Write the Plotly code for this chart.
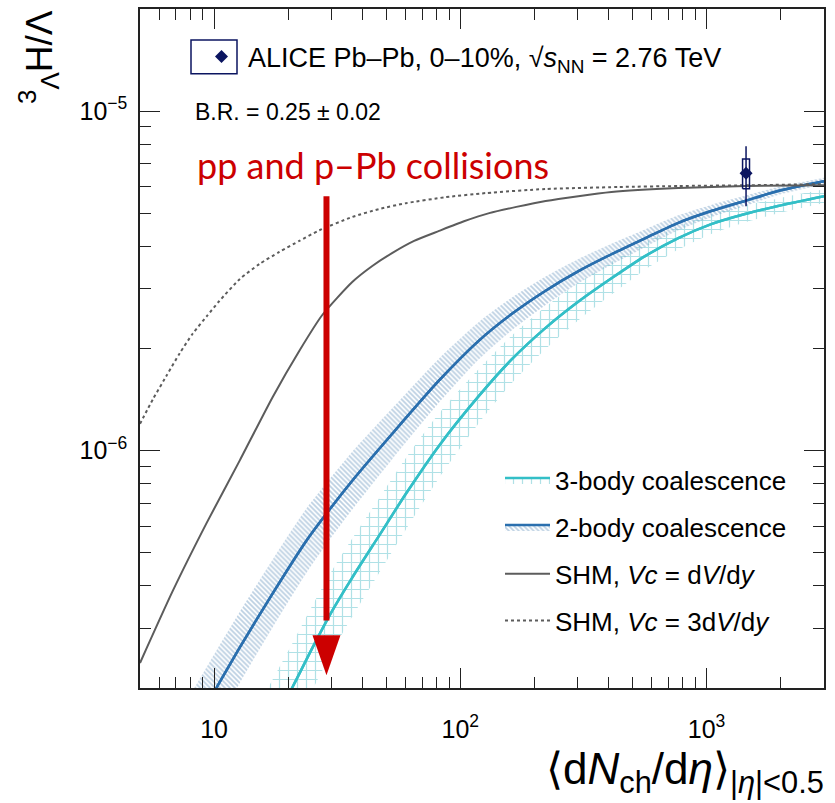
import numpy as np
import plotly.graph_objects as go

# ---------------- data ----------------
# SHM, Vc = dV/dy  (solid grey)
shm1_x = [5, 6.8, 9.34, 12.7, 17.3, 22.2, 27.5, 36.4, 43.9, 52.8, 64.9, 82, 103.5, 131, 222, 411,
          768, 1433, 3000]
shm1_y = [2.37e-7, 3.87e-7, 6.14e-7, 9.35e-7, 1.44e-6, 1.97e-6, 2.51e-6, 3.14e-6, 3.5e-6, 3.82e-6,
          4.15e-6, 4.44e-6, 4.74e-6, 5.01e-6, 5.44e-6, 5.78e-6, 5.94e-6, 6.02e-6, 6.05e-6]

# SHM, Vc = 3 dV/dy  (dotted grey)
shm3_x = [5, 5.65, 6.43, 7.26, 8.18, 9.34, 10.5, 12.7, 15.3, 18.4, 22.2, 26.8, 36.4, 46.8, 60.2,
          86.9, 127, 222, 439, 768, 1433, 3000]
shm3_y = [1.20e-6, 1.42e-6, 1.67e-6, 1.94e-6, 2.21e-6, 2.49e-6, 2.76e-6, 3.2e-6, 3.55e-6, 3.85e-6,
          4.15e-6, 4.46e-6, 4.88e-6, 5.15e-6, 5.36e-6, 5.58e-6, 5.74e-6, 5.90e-6, 5.98e-6, 6.02e-6,
          6.05e-6, 6.1e-6]

# 2-body coalescence (central value and half width of band, in decades)
c2_x = [5, 7, 10.25, 12.7, 17.3, 23.7, 28.6, 36.4, 52.8, 82, 119, 162, 222, 302, 411, 565,
        768, 1045, 1433, 1950, 3000]
c2_y = [8.5e-8, 1.26e-7, 2.01e-7, 2.63e-7, 3.8e-7, 5.43e-7, 6.53e-7, 8.16e-7, 1.12e-6, 1.61e-6,
        2.11e-6, 2.53e-6, 2.96e-6, 3.38e-6, 3.79e-6, 4.23e-6, 4.69e-6, 5.08e-6, 5.44e-6, 5.82e-6, 6.22e-6]
c2_hw = [0.11, 0.11, 0.11, 0.105, 0.10, 0.095, 0.09, 0.085, 0.075, 0.065, 0.055, 0.048, 0.042,
         0.036, 0.031, 0.026, 0.022, 0.018, 0.015, 0.012, 0.010]

# 3-body coalescence
c3_x = [5, 10, 15, 20.8, 25.1, 30.2, 36.4, 46.8, 60.2, 82, 119, 162, 222, 302, 411, 565,
        768, 1045, 1433, 1950, 3000]
c3_y = [3.0e-8, 7.6e-8, 1.3e-7, 2.01e-7, 2.63e-7, 3.38e-7, 4.23e-7, 5.62e-7, 7.48e-7, 1.035e-6,
        1.45e-6, 1.86e-6, 2.3e-6, 2.75e-6, 3.22e-6, 3.75e-6, 4.23e-6, 4.65e-6, 4.98e-6, 5.26e-6, 5.62e-6]
c3_hw = [0.13, 0.13, 0.13, 0.13, 0.125, 0.12, 0.115, 0.11, 0.105, 0.095, 0.08, 0.07, 0.062,
         0.055, 0.048, 0.04, 0.034, 0.029, 0.025, 0.022, 0.020]

# ALICE data point
alice_x = [1447]
alice_y = [6.57e-6]
alice_stat = [1.32e-6]
alice_syst = [0.66e-6]
syst_box_factor = 1.033   # half width of syst box (multiplicative in x)

# arrow
arrow_x = 28.6
arrow_y_top = 5.62e-6
arrow_y_tip = 2.18e-7

x_tickvals = [10, 100, 1000]
x_ticktext = ["10", "10<sup>2</sup>", "10<sup>3</sup>"]
x_minor = [5, 6, 7, 8, 9, 20, 30, 40, 50, 60, 70, 80, 90, 200, 300, 400, 500, 600, 700, 800, 900, 2000, 3000]
y_tickvals = [1e-6, 1e-5]
y_ticktext = ["10<sup>−6</sup>", "10<sup>−5</sup>"]
y_minor = [2e-7, 3e-7, 4e-7, 5e-7, 6e-7, 7e-7, 8e-7, 9e-7, 2e-6, 3e-6, 4e-6, 5e-6, 6e-6, 7e-6, 8e-6, 9e-6, 2e-5]

# ---------------- styles ----------------
FONT = "Liberation Sans"
C2_LINE = "#2a6fae"
C2_HATCH = "#7aa2c6"
C3_LINE = "#33bfc7"
C3_HATCH = "#62c4cd"
SHM_COL = "#5c5c5c"
NAVY = "#0b1560"
RED = "#cc0000"

L, R, T, B = 140, 11, 7, 115
PW, PH = 835 - L - R, 803 - T - B


def px(xp):
    return (xp - L) / PW


def py(yp):
    return (803 - B - yp) / PH


fig = go.Figure()


def band(x, y, hw, linecol, hatchcol, shape, size, sol, name, group):
    y = np.array(y)
    hw = np.array(hw)
    lo = y * 10 ** (-hw)
    hi = y * 10 ** hw
    pat = dict(shape=shape, fgcolor=hatchcol, bgcolor="rgba(255,255,255,0)", size=size, solidity=sol)
    fig.add_trace(go.Scatter(x=x, y=lo, mode="lines", line=dict(width=0, shape="spline", smoothing=0.7),
                             showlegend=False, hoverinfo="skip", legendgroup=group))
    fig.add_trace(go.Scatter(x=x, y=y, mode="lines", fill="tonexty", fillpattern=pat,
                             fillcolor="rgba(0,0,0,0)",
                             line=dict(color=linecol, width=2.5, shape="spline", smoothing=0.7),
                             name=name, legendgroup=group, legend="legend"))
    fig.add_trace(go.Scatter(x=x, y=hi, mode="lines", fill="tonexty", fillpattern=pat,
                             fillcolor="rgba(0,0,0,0)",
                             line=dict(width=0, shape="spline", smoothing=0.7), showlegend=False,
                             hoverinfo="skip", legendgroup=group))
    fig.add_trace(go.Scatter(x=x, y=y, mode="lines",
                             line=dict(color=linecol, width=2.5, shape="spline", smoothing=0.7),
                             showlegend=False, hoverinfo="skip", legendgroup=group))


band(c3_x, c3_y, c3_hw, C3_LINE, C3_HATCH, "+", 9, 0.25, "3-body coalescence", "g1")
band(c2_x, c2_y, c2_hw, C2_LINE, C2_HATCH, "\\", 3.5, 0.5, "2-body coalescence", "g2")

fig.add_trace(go.Scatter(x=shm1_x, y=shm1_y, mode="lines",
                         line=dict(color=SHM_COL, width=2, shape="spline", smoothing=0.6),
                         name="SHM, <i>Vc</i> = d<i>V</i>/d<i>y</i>", legendgroup="g3"))
fig.add_trace(go.Scatter(x=shm3_x, y=shm3_y, mode="lines",
                         line=dict(color=SHM_COL, width=2, shape="spline", smoothing=0.6, dash="dot"),
                         name="SHM, <i>Vc</i> = 3d<i>V</i>/d<i>y</i>", legendgroup="g4"))

# syst box
bx0 = alice_x[0] / syst_box_factor
bx1 = alice_x[0] * syst_box_factor
by0 = alice_y[0] - alice_syst[0]
by1 = alice_y[0] + alice_syst[0]
fig.add_trace(go.Scatter(x=[bx0, bx1, bx1, bx0, bx0], y=[by0, by0, by1, by1, by0], mode="lines",
                         line=dict(color=NAVY, width=1.5), showlegend=False, hoverinfo="skip"))
fig.add_trace(go.Scatter(x=alice_x, y=alice_y, mode="markers",
                         marker=dict(symbol="diamond", size=10, color=NAVY),
                         error_y=dict(type="data", array=alice_stat, color=NAVY, thickness=1.5, width=0),
                         name="ALICE Pb–Pb, 0–10%, √<i>s</i><sub>NN</sub> = 2.76 TeV",
                         legend="legend2"))

# arrow
fig.add_shape(type="line", xref="x", yref="y", x0=arrow_x, x1=arrow_x, y0=arrow_y_top,
              y1=arrow_y_tip * 1.45, line=dict(color=RED, width=6))
fig.add_shape(type="path", xref="x", yref="y", xsizemode="pixel", ysizemode="pixel",
              xanchor=arrow_x, yanchor=arrow_y_tip, path="M -14,40 L 14,40 L 0,0 Z",
              fillcolor=RED, line=dict(width=0))

fig.add_annotation(text="pp and p–Pb collisions", xref="paper", yref="paper",
                   x=px(195), y=py(163), xanchor="left", yanchor="middle",
                   showarrow=False, font=dict(family="Lato", size=36, color=RED))
fig.add_annotation(text="B.R. = 0.25 ± 0.02", xref="paper", yref="paper",
                   x=px(193), y=py(110), xanchor="left", yanchor="middle",
                   showarrow=False, font=dict(family=FONT, size=23, color="black"))

# legend box for ALICE entry
fig.add_shape(type="rect", xref="paper", yref="paper", x0=px(191), x1=px(237),
              y0=py(72), y1=py(38), line=dict(color=NAVY, width=1.5))

# axis titles
fig.add_annotation(text="<sup>3</sup><sub>Λ</sub>H/Λ", xref="paper", yref="paper",
                   x=px(38), y=py(6), xanchor="center", yanchor="top",
                   textangle=-90, showarrow=False, font=dict(family=FONT, size=37, color="black"))
fig.add_annotation(text="⟨d<i>N</i><sub>ch</sub>/d<i>η</i>⟩<sub>|<i>η</i>|<0.5</sub>",
                   xref="paper", yref="paper", x=px(826), y=py(772), xanchor="right",
                   yanchor="middle", showarrow=False, font=dict(family=FONT, size=44, color="black"))

axis_common = dict(showgrid=False, zeroline=False, showline=True, linecolor="#222", linewidth=1.5,
                   mirror="ticks", ticks="inside", ticklen=20, tickwidth=1.3, tickcolor="#222",
                   tickfont=dict(family=FONT, size=25, color="black"))
fig.update_xaxes(type="log", range=[np.log10(5), np.log10(3000)], tickvals=x_tickvals,
                 ticktext=x_ticktext, ticklabelstandoff=18,
                 minor=dict(tickvals=x_minor, ticks="inside", ticklen=11, tickwidth=1.3, tickcolor="#222"),
                 **axis_common)
fig.update_yaxes(type="log", range=[np.log10(2e-7), np.log10(2e-5)], tickvals=y_tickvals,
                 ticktext=y_ticktext, ticklabelstandoff=6,
                 minor=dict(tickvals=y_minor, ticks="inside", ticklen=11, tickwidth=1.3, tickcolor="#222"),
                 **axis_common)

fig.update_layout(
    width=835, height=803,
    margin=dict(l=L, r=R, t=T, b=B),
    paper_bgcolor="white", plot_bgcolor="white",
    font=dict(family=FONT, color="black"),
    legend=dict(x=px(500), y=py(456), xanchor="left", yanchor="top",
                bgcolor="rgba(0,0,0,0)", font=dict(family=FONT, size=26, color="black"),
                tracegroupgap=10, traceorder="grouped", itemwidth=45),
    legend2=dict(x=px(195), y=py(55), xanchor="left", yanchor="middle",
                 bgcolor="rgba(0,0,0,0)", font=dict(family=FONT, size=27, color="black"),
                 itemwidth=43),
)

fig.write_html("out.html", config={"displayModeBar": False},
               post_script="document.body.style.margin='0px';")
